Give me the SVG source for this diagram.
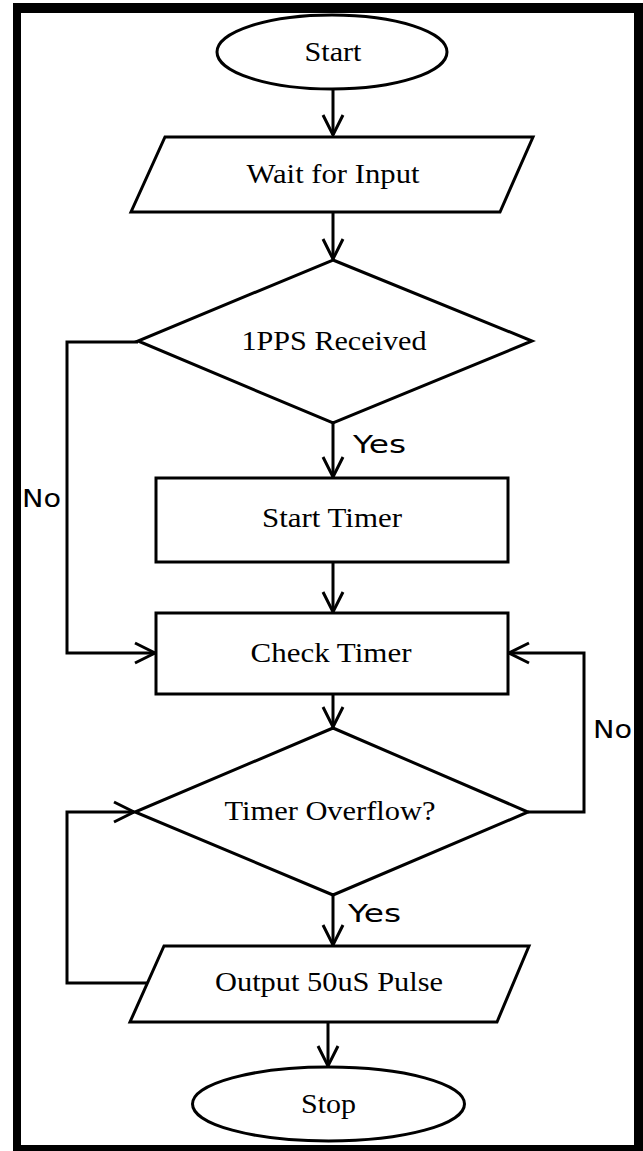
<svg xmlns="http://www.w3.org/2000/svg" width="643" height="1151" viewBox="0 0 643 1151">
<style>
.s{fill:#fff;stroke:#000;stroke-width:3}
.t{font-family:"Liberation Serif",serif;font-size:27px;fill:#000;text-anchor:middle}
.l{font-family:"DejaVu Sans",sans-serif;font-size:24px;fill:#000}
.c{fill:none;stroke:#000;stroke-width:3}
</style>
<defs>
<marker id="a" markerWidth="26" markerHeight="26" refX="22" refY="13" orient="auto" markerUnits="userSpaceOnUse">
<path d="M2,3 L22,13 L2,23" fill="none" stroke="#000" stroke-width="3"/>
</marker>
</defs>
<rect x="0" y="0" width="643" height="1151" fill="#fff"/>
<path fill="#000" fill-rule="evenodd" d="M13,3 H643 V1151 H13 Z M21,13 V1145 H634 V13 Z"/>
<g id="connectors">
<path class="c" d="M333,89 V135" marker-end="url(#a)"/>
<path class="c" d="M333,212 V259" marker-end="url(#a)"/>
<path class="c" d="M333,423 V477" marker-end="url(#a)"/>
<path class="c" d="M333,562 V612" marker-end="url(#a)"/>
<path class="c" d="M138,342 H67 V653 H155" marker-end="url(#a)"/>
<path class="c" d="M333,694 V727" marker-end="url(#a)"/>
<path class="c" d="M528,812 H584 V653 H509" marker-end="url(#a)"/>
<path class="c" d="M333,895 V945" marker-end="url(#a)"/>
<path class="c" d="M147,983 H67 V812 H134" marker-end="url(#a)"/>
<path class="c" d="M328,1012 V1066" marker-end="url(#a)"/>
<text class="l" x="353" y="453" textLength="53" lengthAdjust="spacingAndGlyphs">Yes</text>
<text class="l" x="22" y="507" textLength="39" lengthAdjust="spacingAndGlyphs">No</text>
<text class="l" x="593" y="738" textLength="39" lengthAdjust="spacingAndGlyphs">No</text>
<text class="l" x="348" y="922" textLength="53" lengthAdjust="spacingAndGlyphs">Yes</text>
</g>
<g id="start"><ellipse class="s" cx="332" cy="52" rx="115" ry="37"/><text class="t" x="333" y="61" textLength="57" lengthAdjust="spacingAndGlyphs">Start</text></g>
<g id="wait"><polygon class="s" points="165,137 533,137 500,212 131,212"/><text class="t" x="333" y="183" textLength="173" lengthAdjust="spacingAndGlyphs">Wait for Input</text></g>
<g id="pps"><polygon class="s" points="333,260 532,341 333,423 138,341"/><text class="t" x="334" y="350" textLength="185" lengthAdjust="spacingAndGlyphs">1PPS Received</text></g>
<g id="starttimer"><rect class="s" x="156" y="478" width="352" height="84"/><text class="t" x="332" y="527" textLength="140" lengthAdjust="spacingAndGlyphs">Start Timer</text></g>
<g id="checktimer"><rect class="s" x="156" y="613" width="352" height="81"/><text class="t" x="331" y="662" textLength="161" lengthAdjust="spacingAndGlyphs">Check Timer</text></g>
<g id="overflow"><polygon class="s" points="333,728 528,812 333,895 135,812"/><text class="t" x="330" y="820" textLength="211" lengthAdjust="spacingAndGlyphs">Timer Overflow?</text></g>
<g id="output"><polygon class="s" points="164,946 529,946 497,1022 130,1022"/><text class="t" x="329" y="991" textLength="228" lengthAdjust="spacingAndGlyphs">Output 50uS Pulse</text></g>
<g id="stop"><ellipse class="s" cx="328.5" cy="1104" rx="136" ry="37"/><text class="t" x="328.5" y="1113" textLength="55" lengthAdjust="spacingAndGlyphs">Stop</text></g>
</svg>
